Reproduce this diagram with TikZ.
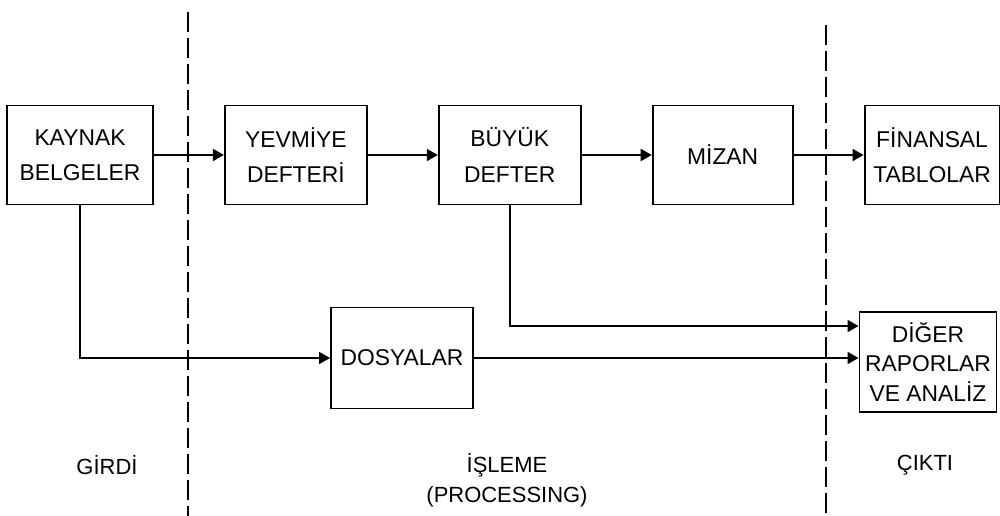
\documentclass[tikz,border=0pt]{standalone}
\usepackage{fontspec}
\setmainfont{Liberation Sans}
\usetikzlibrary{shapes,arrows.meta,positioning}

\begin{document}
\begin{tikzpicture}[x=0.02cm, y=-0.02cm, node distance=1.4cm,
    box/.style={rectangle, draw, line width=1.1pt, align=center, inner sep=0pt, minimum height=1.98cm, font=\fontsize{13}{20}\selectfont},
    flow/.style={-{Triangle[length=2.2mm,width=2.4mm]}, line width=1pt},
    border/.style={dash pattern=on 0.4cm off 0.12cm, line width=1.2pt},
    lbl/.style={align=center, font=\fontsize{12.5}{17}\selectfont}]
    \useasboundingbox (0,0) rectangle (1000,516);

    \node (kaynak) [box, minimum width=2.92cm] at (80,155) {KAYNAK\\BELGELER};
    \node (yevmiye) [box, minimum width=2.84cm, right=of kaynak] {YEVMİYE\\DEFTERİ};
    \node (buyuk) [box, minimum width=2.84cm, right=of yevmiye] {BÜYÜK\\DEFTER};
    \node (mizan) [box, minimum width=2.8cm, right=of buyuk] {MİZAN};
    \node (finansal) [box, minimum width=2.7cm, right=of mizan] {FİNANSAL\\TABLOLAR};
    \node (dosyalar) [box, minimum width=2.84cm, minimum height=2.02cm] at (402,358) {DOSYALAR};
    \node (diger) [box, minimum width=2.74cm, minimum height=2cm, font=\fontsize{13}{17}\selectfont] at (928,362) {DİĞER\\RAPORLAR\\VE ANALİZ};

    % girdi / isleme / cikti sinirlari
    \coordinate (sinir1ust) at (188,12);
    \coordinate (sinir1alt) at (188,516);
    \coordinate (sinir2ust) at (826,25);
    \coordinate (sinir2alt) at (826,516);
    \draw[border] (sinir1ust) -- (sinir1alt);
    \draw[border] (sinir2ust) -- (sinir2alt);

    \node (girdi) [lbl] at (107,465) {GİRDİ};
    \node (isleme) [lbl] at (507,480) {İŞLEME\\(PROCESSING)};
    \node (cikti) [lbl] at (925,465) {ÇIKTI};

    \draw[flow] (kaynak) -- (yevmiye);
    \draw[flow] (yevmiye) -- (buyuk);
    \draw[flow] (buyuk) -- (mizan);
    \draw[flow] (mizan) -- (finansal);
    \draw[flow] (kaynak.south) |- (dosyalar.west);
    \draw[flow] (buyuk.south) |- ([yshift=-0.3cm]diger.north west);
    \draw[flow] (dosyalar.east) -- (dosyalar.east -| diger.west);
\end{tikzpicture}
\end{document}
